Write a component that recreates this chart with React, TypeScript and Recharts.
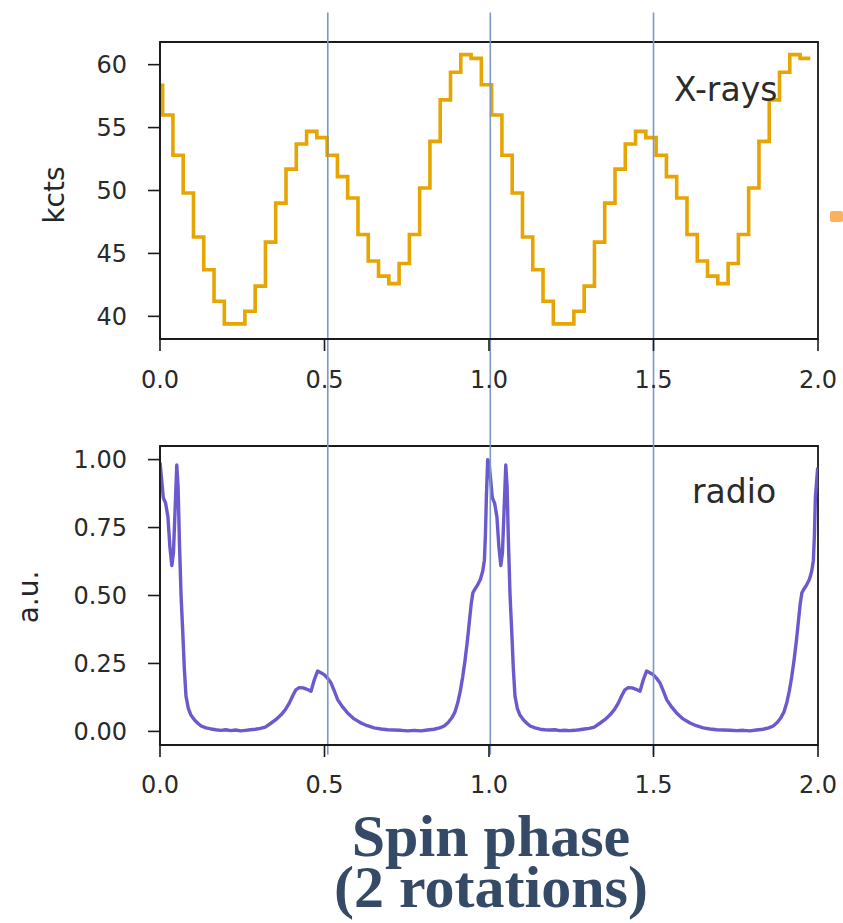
import React from 'react';
import { LineChart, Line, XAxis, YAxis, ReferenceLine, ReferenceArea } from 'recharts';

const phaseTicks = [0, 0.5, 1, 1.5, 2];
const xrayTicks = [40, 45, 50, 55, 60];
const radioTicks = [0, 0.25, 0.5, 0.75, 1];
const markerPhases = [0.51, 1.004, 1.5];

// X-ray light curve: 32 phase bins per rotation, two rotations shown
const xrayBinWidth = 1 / 32;
const xrayBinStart = 0.008;
const xrayKcts = [
    58.5, 56.0, 52.8, 49.8, 46.3, 43.7, 41.2, 39.4, 39.4, 40.4, 42.4, 45.9, 49.0, 51.7, 53.7, 54.7,
    54.2, 52.8, 51.1, 49.4, 46.5, 44.4, 43.2, 42.6, 44.2, 46.5, 50.2, 53.9, 57.2, 59.4, 60.8, 60.5,
    58.4, 56.0, 52.8, 49.8, 46.3, 43.7, 41.2, 39.4, 39.4, 40.4, 42.4, 45.9, 49.0, 51.7, 53.7, 54.7,
    54.2, 52.8, 51.1, 49.4, 46.5, 44.4, 43.2, 42.6, 44.2, 46.5, 50.2, 53.9, 57.2, 59.4, 60.8, 60.5,
];

// radio pulse profile, two rotations
const radioPhase = [
    0.000, 0.004, 0.010, 0.017, 0.024, 0.030, 0.036, 0.041, 0.046, 0.051, 0.055, 0.059, 0.064, 0.069,
    0.074, 0.079, 0.086, 0.094, 0.105, 0.115, 0.125, 0.140, 0.155, 0.170, 0.185, 0.200, 0.215, 0.230,
    0.245, 0.260, 0.275, 0.290, 0.305, 0.320, 0.337, 0.352, 0.368, 0.381, 0.393, 0.403, 0.413, 0.423,
    0.435, 0.447, 0.459, 0.469, 0.479, 0.489, 0.499, 0.509, 0.520, 0.530, 0.540, 0.555, 0.570, 0.590,
    0.611, 0.630, 0.651, 0.672, 0.692, 0.712, 0.733, 0.753, 0.773, 0.793, 0.813, 0.833, 0.850, 0.864,
    0.876, 0.887, 0.896, 0.905, 0.913, 0.920, 0.927, 0.934, 0.940, 0.946, 0.951, 0.958, 0.966, 0.974,
    0.981, 0.986, 0.989, 0.992, 0.996,
    1.000, 1.004, 1.010, 1.017, 1.024, 1.030, 1.036, 1.041, 1.046, 1.051, 1.055, 1.059, 1.064, 1.069,
    1.074, 1.079, 1.086, 1.094, 1.105, 1.115, 1.125, 1.140, 1.155, 1.170, 1.185, 1.200, 1.215, 1.230,
    1.245, 1.260, 1.275, 1.290, 1.305, 1.320, 1.337, 1.352, 1.368, 1.381, 1.393, 1.403, 1.413, 1.423,
    1.435, 1.447, 1.459, 1.469, 1.479, 1.489, 1.499, 1.509, 1.520, 1.530, 1.540, 1.555, 1.570, 1.590,
    1.611, 1.630, 1.651, 1.672, 1.692, 1.712, 1.733, 1.753, 1.773, 1.793, 1.813, 1.833, 1.850, 1.864,
    1.876, 1.887, 1.896, 1.905, 1.913, 1.920, 1.927, 1.934, 1.940, 1.946, 1.951, 1.958, 1.966, 1.974,
    1.981, 1.986, 1.989, 1.992, 1.999,
];
const radioFlux = [
    0.99, 0.94, 0.86, 0.84, 0.79, 0.68, 0.61, 0.66, 0.82, 0.98, 0.90, 0.70, 0.50, 0.37,
    0.23, 0.13, 0.085, 0.06, 0.042, 0.03, 0.02, 0.013, 0.009, 0.006, 0.004, 0.006, 0.003, 0.005,
    0.002, 0.004, 0.006, 0.008, 0.011, 0.016, 0.03, 0.043, 0.061, 0.08, 0.104, 0.13, 0.153, 0.161,
    0.16, 0.155, 0.148, 0.19, 0.222, 0.216, 0.209, 0.196, 0.178, 0.148, 0.117, 0.09, 0.068, 0.046,
    0.031, 0.021, 0.013, 0.009, 0.006, 0.005, 0.004, 0.002, 0.004, 0.002, 0.005, 0.008, 0.013, 0.02,
    0.033, 0.05, 0.07, 0.105, 0.15, 0.2, 0.26, 0.33, 0.40, 0.47, 0.51, 0.525, 0.54, 0.56,
    0.59, 0.63, 0.72, 0.86, 1.00,
    0.99, 0.94, 0.86, 0.84, 0.79, 0.68, 0.61, 0.66, 0.82, 0.98, 0.90, 0.70, 0.50, 0.37,
    0.23, 0.13, 0.085, 0.06, 0.042, 0.03, 0.02, 0.013, 0.008, 0.006, 0.005, 0.006, 0.003, 0.004,
    0.003, 0.004, 0.006, 0.009, 0.011, 0.016, 0.03, 0.043, 0.061, 0.08, 0.104, 0.13, 0.153, 0.161,
    0.16, 0.155, 0.148, 0.19, 0.222, 0.216, 0.209, 0.196, 0.178, 0.148, 0.117, 0.09, 0.068, 0.046,
    0.031, 0.021, 0.013, 0.009, 0.006, 0.005, 0.004, 0.003, 0.004, 0.002, 0.005, 0.008, 0.013, 0.02,
    0.033, 0.05, 0.07, 0.105, 0.15, 0.2, 0.26, 0.33, 0.40, 0.47, 0.51, 0.525, 0.54, 0.56,
    0.59, 0.63, 0.72, 0.86, 0.97,
];

const xrayData = xrayKcts.map((v, i) => ({ phase: xrayBinStart + i * xrayBinWidth, kcts: v }));
const radioData = radioPhase.map((p, i) => ({ phase: p, flux: radioFlux[i] }));

const tickFont = { fontSize: 24, fill: '#2a2a2a', fontFamily: 'DejaVu Sans' };
const dark = '#1a1a1a';
const markerColor = '#7b98c6';

const axisLabel = (cx: number, cy: number, size: number): React.CSSProperties => ({
    position: 'absolute',
    left: cx,
    top: cy,
    transform: 'translate(-50%, -50%) rotate(-90deg)',
    fontFamily: 'DejaVu Sans',
    fontSize: size,
    color: '#262626',
    whiteSpace: 'nowrap',
    lineHeight: 1,
});

const titleLine = (top: number): React.CSSProperties => ({
    position: 'absolute', left: 241, top, width: 500, textAlign: 'center',
    fontFamily: '"Liberation Serif"', fontWeight: 'bold', fontSize: 60, lineHeight: '50px', color: '#344a66',
    whiteSpace: 'nowrap',
});

const App: React.FC = () => {
    return (
        <div style={{ position: 'absolute', left: 0, top: 0, width: 843, height: 923, background: '#fff', overflow: 'hidden' }}>
            <div style={{ position: 'absolute', left: 0, top: 0 }}>
                <LineChart width={843} height={420} data={xrayData} margin={{ top: 42, right: 25, bottom: 21, left: 0 }}>
                    <XAxis
                        type="number" dataKey="phase" domain={[0, 2]} ticks={phaseTicks} allowDataOverflow
                        tickFormatter={(v: number) => v.toFixed(1)} height={60} tickSize={12} tickMargin={20}
                        tick={tickFont} tickLine={{ stroke: dark, strokeWidth: 1.6 }} axisLine={{ stroke: dark, strokeWidth: 1.8 }}
                    />
                    <YAxis
                        type="number" domain={[38.2, 61.8]} ticks={xrayTicks} allowDataOverflow width={160}
                        tickSize={12} tickMargin={21} tick={tickFont}
                        tickLine={{ stroke: dark, strokeWidth: 1.6 }} axisLine={{ stroke: dark, strokeWidth: 1.8 }}
                    />
                    <ReferenceArea x1={0} x2={2} y1={38.2} y2={61.8} fill="none" stroke={dark} strokeWidth={1.8} ifOverflow="visible" />
                    <Line type="stepBefore" dataKey="kcts" stroke="#e6a500" strokeWidth={3.6} dot={false} isAnimationActive={false} />
                    {markerPhases.map((p) => (
                        <ReferenceLine key={p} segment={[{ x: p, y: 64.15 }, { x: p, y: 20 }]} stroke={markerColor} strokeWidth={1.6} ifOverflow="visible" />
                    ))}
                </LineChart>
            </div>

            <div style={{ position: 'absolute', left: 0, top: 420 }}>
                <LineChart width={843} height={503} data={radioData} margin={{ top: 26, right: 25, bottom: 118, left: 0 }}>
                    <XAxis
                        type="number" dataKey="phase" domain={[0, 2]} ticks={phaseTicks} allowDataOverflow
                        tickFormatter={(v: number) => v.toFixed(1)} height={60} tickSize={12} tickMargin={19}
                        tick={tickFont} tickLine={{ stroke: dark, strokeWidth: 1.6 }} axisLine={{ stroke: dark, strokeWidth: 1.8 }}
                    />
                    <YAxis
                        type="number" domain={[-0.05, 1.05]} ticks={radioTicks} allowDataOverflow width={160}
                        tickFormatter={(v: number) => v.toFixed(2)}
                        tickSize={12} tickMargin={21} tick={tickFont}
                        tickLine={{ stroke: dark, strokeWidth: 1.6 }} axisLine={{ stroke: dark, strokeWidth: 1.8 }}
                    />
                    <ReferenceArea x1={0} x2={2} y1={-0.05} y2={1.05} fill="none" stroke={dark} strokeWidth={1.8} ifOverflow="visible" />
                    <Line type="linear" dataKey="flux" stroke="#6a5acd" strokeWidth={3.4} dot={false} isAnimationActive={false} strokeLinejoin="round" />
                    {markerPhases.map((p) => (
                        <ReferenceLine key={p} segment={[{ x: p, y: 1.3 }, { x: p, y: -0.086 }]} stroke={markerColor} strokeWidth={1.6} ifOverflow="visible" />
                    ))}
                </LineChart>
            </div>

            <div style={axisLabel(55, 195, 28)}>kcts</div>
            <div style={axisLabel(29, 597, 28)}>a.u.</div>

            <div style={{ position: 'absolute', left: 674, top: 73, fontFamily: 'DejaVu Sans', fontSize: 33, lineHeight: '33px', color: '#2b2b2b' }}>X-rays</div>
            <div style={{ position: 'absolute', left: 692, top: 475, fontFamily: 'DejaVu Sans', fontSize: 33, lineHeight: '33px', color: '#2b2b2b' }}>radio</div>

            <div style={{ position: 'absolute', left: 830, top: 211, width: 13, height: 11, background: '#fdb15e', borderRadius: 2 }} />

            <div style={titleLine(811)}>Spin phase</div>
            <div style={titleLine(862)}>(2 rotations)</div>
        </div>
    );
};

export default App;
